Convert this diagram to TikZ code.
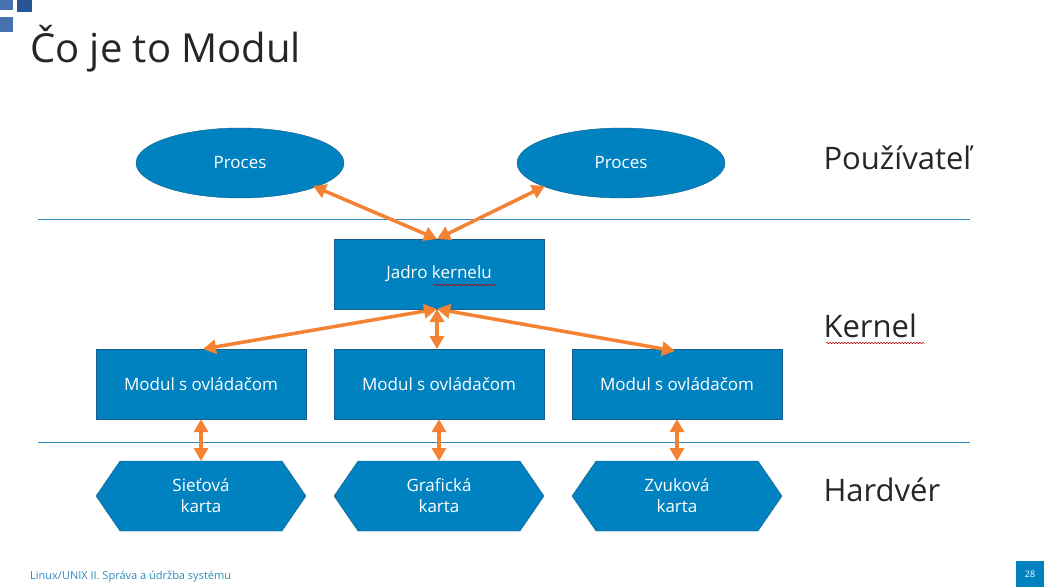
\documentclass[tikz,border=0pt]{standalone}
\usepackage{fontspec}
\setmainfont{Open Sans}
\usetikzlibrary{shapes.geometric,arrows.meta,decorations.pathmorphing}
\definecolor{fillb}{RGB}{0,130,192}
\definecolor{edgeb}{RGB}{20,95,140}
\definecolor{orng}{RGB}{245,130,50}
\definecolor{teal}{RGB}{46,140,190}
\definecolor{sq1}{RGB}{70,115,175}
\definecolor{sq2}{RGB}{40,85,150}
\begin{document}
\begin{tikzpicture}[x=1pt,y=-1pt,
  box/.style={draw=edgeb,fill=fillb,text=white,minimum width=210pt,minimum height=70pt,inner sep=0pt,font=\fontsize{17}{20}\selectfont},
  ell/.style={ellipse,draw=edgeb,fill=fillb,text=white,minimum width=208pt,minimum height=70pt,inner sep=0pt,font=\fontsize{17}{20}\selectfont},
  hex/.style={fill=fillb,draw=edgeb},
  hlbl/.style={text=white,align=center,font=\fontsize{17}{21}\selectfont},
  arr/.style={draw=orng,line width=3.5pt,{Triangle[length=13pt,width=14pt]}-{Triangle[length=13pt,width=14pt]},shorten <=0pt,shorten >=0pt},
  sep/.style={draw=teal,line width=0.9pt},
  side/.style={anchor=west,font=\fontsize{31}{36}\selectfont,text=black!85},
  wavy/.style={draw=red!70!black,line width=0.5pt,decorate,decoration={snake,amplitude=0.8pt,segment length=3pt}}]
\useasboundingbox (0,0) rectangle (1044,587);
\fill[white] (0,0) rectangle (1044,587);
% corner squares
\fill[sq1] (0,0) rectangle (13,10);
\fill[sq2] (17,0) rectangle (32,12);
\fill[sq1] (0,17) rectangle (13,32);
\node[anchor=base west,font=\fontsize{40}{44}\selectfont,text=black!85,inner sep=0pt] (title) at (30,62) {Čo je to Modul};
% separators
\coordinate (s1a) at (38,219); \coordinate (s1b) at (970,219);
\coordinate (s2a) at (38,442); \coordinate (s2b) at (970,442);
\draw[sep] (s1a) -- (s1b);
\draw[sep] (s2a) -- (s2b);
% nodes
\node[ell] (p1) at (240,163) {Proces};
\node[ell] (p2) at (621,163) {Proces};
\node[box] (jk) at (439,274) {Jadro kernelu};
\node[box] (m1) at (201,384) {Modul s ovládačom};
\node[box] (m2) at (439,384) {Modul s ovládačom};
\node[box] (m3) at (677,384) {Modul s ovládačom};
\draw[wavy] (433,285) -- (496,285);
% hexagons
\foreach \cx/\nm/\t in {201/h1/{Sieťová\\karta},439/h2/{Grafická\\karta},677/h3/{Zvuková\\karta}}{
  \draw[hex] (\cx-105,496) -- (\cx-81,461) -- (\cx+81,461) -- (\cx+105,496) -- (\cx+81,531) -- (\cx-81,531) -- cycle;
  \node[hlbl] (\nm) at (\cx,496) {\t};
  \coordinate (\nm t) at (\cx,461);
}
% arrows
\coordinate (jt) at (437,239);
\coordinate (jb) at (437,309);
\coordinate (p1e) at (313,186);
\coordinate (p2e) at (545,186);
\draw[arr] (p1e) -- (jt);
\draw[arr] (p2e) -- (jt);
\draw[arr] (jb) -- (203,349);
\draw[arr] (jb) -- (437,349);
\draw[arr] (jb) -- (675,351);
\draw[arr] (m1.south) -- (h1t);
\draw[arr] (m2.south) -- (h2t);
\draw[arr] (m3.south) -- (h3t);
% side labels
\node[side] (u) at (820,158) {Používateľ};
\node[side] (k) at (820,326) {Kernel};
\node[side] (h) at (820,490) {Hardvér};
\draw[wavy] (826,343) -- (925,343);
% footer
\node[anchor=base west,text=teal,font=\fontsize{11}{13}\selectfont,inner sep=0pt] (ft) at (30,579) {Linux/UNIX II. Správa a údržba systému};
\fill[fillb] (1016,561) rectangle (1044,587);
\node[text=white,font=\fontsize{9}{11}\selectfont] (pg) at (1030,574) {28};
\end{tikzpicture}
\end{document}
